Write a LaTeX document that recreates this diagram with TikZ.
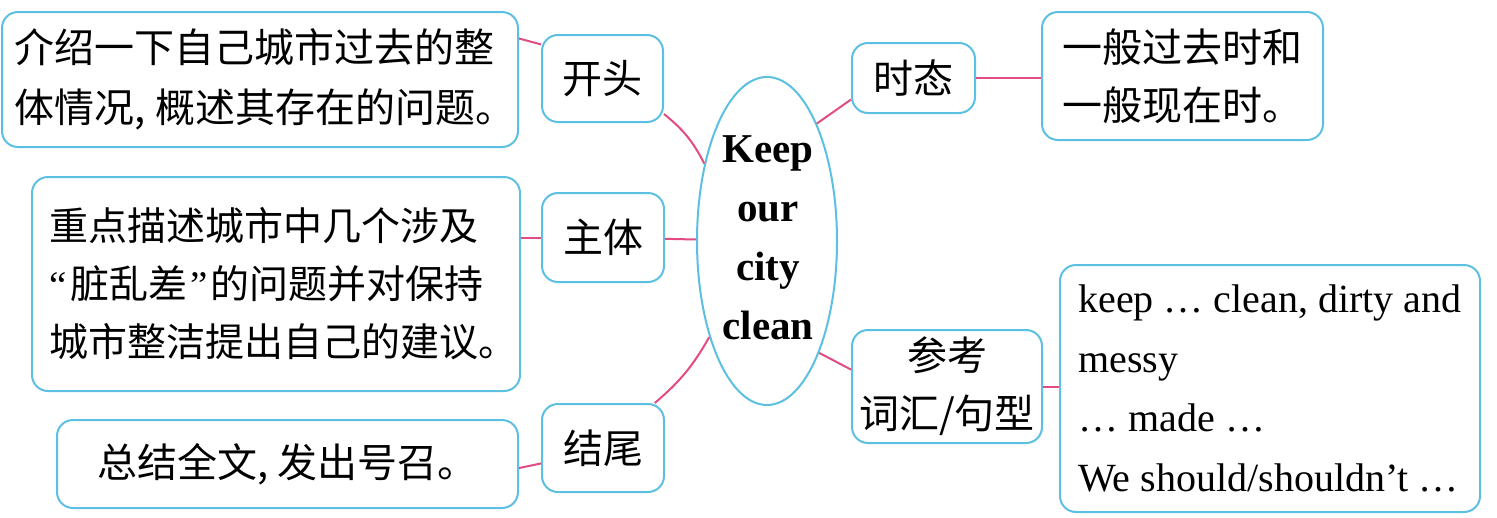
\documentclass[tikz,border=0pt]{standalone}
\usepackage{fontspec}
\setmainfont{Liberation Serif}
\newfontfamily\cjk{Noto Sans CJK SC}
\usetikzlibrary{shapes.geometric}
\definecolor{boxblue}{RGB}{92,192,226}
\definecolor{linkpink}{RGB}{226,76,132}
\newcommand{\lquo}{{\rmfamily “}\kern4pt}
\newcommand{\rquo}{\kern3pt{\rmfamily ”}\kern3pt}
\newcommand{\indentA}{\rule{10pt}{0pt}}
\newcommand{\indentB}{\rule{14pt}{0pt}}
\begin{document}
\begin{tikzpicture}[x=1pt,y=-1pt,
  box/.style={draw=boxblue, line width=2pt, rounded corners=16pt, inner sep=0pt,
    font=\cjk\fontsize{40}{60}\selectfont, align=left},
  lbl/.style={box, align=center, font=\cjk\fontsize{40}{58}\selectfont},
  link/.style={draw=linkpink, line width=2pt}]
\useasboundingbox (0,0) rectangle (1497,517);
\fill[white] (0,0) rectangle (1497,517);

% left side
\node[box, minimum width=516pt, minimum height=135pt] (A) at (260,79.5)
  {\indentA 介绍一下自己城市过去的整\\\indentA 体情况, 概述其存在的问题。};
\node[lbl, minimum width=121pt, minimum height=87pt] (kt) at (602.5,78.5) {开头};
\node[box, font=\cjk\fontsize{39}{58}\selectfont, minimum width=488pt, minimum height=214pt] (B) at (276,284)
  {\indentB 重点描述城市中几个涉及\\\indentB\lquo 脏乱差\rquo 的问题并对保持\\\indentB 城市整洁提出自己的建议。};
\node[lbl, minimum width=122pt, minimum height=89pt] (zt) at (603,237.5) {主体};
\node[box, minimum width=461pt, minimum height=88pt] (C) at (287.5,464) {总结全文, 发出号召。};
\node[lbl, minimum width=122pt, minimum height=88pt] (jw) at (603,448) {结尾};

% centre
\node[draw=boxblue, line width=2pt, ellipse, minimum width=140pt, minimum height=328pt, inner sep=0pt] (E) at (767,241) {};
\node[font=\bfseries\fontsize{41}{59}\selectfont, align=center, inner sep=0pt] (Et) at (768,238) {Keep\\our\\city\\clean};

% right side
\node[lbl, minimum width=123pt, minimum height=70pt] (st) at (913.5,78) {时态};
\node[box, font=\cjk\fontsize{40}{58}\selectfont, minimum width=281pt, minimum height=128pt] (T) at (1182.5,76)
  {一般过去时和\\一般现在时。};
\node[lbl, minimum width=190pt, minimum height=113pt] (ck) at (947,386.5) {参考\\词汇/句型};
\node[box, font=\fontsize{40}{59.5}\selectfont, minimum width=420pt, minimum height=247pt] (R) at (1270,388.5)
  {keep … clean, dirty and\\messy\\… made …\\We should/shouldn’t …};

% connectors
\draw[link] (A.9) -- (kt.151);
\draw[link] (kt.-30) to[bend left=12] (E.129);
\draw[link] (B.east |- zt.west) -- (zt.west);
\draw[link] (zt) -- (E);
\draw[link] (C.-1.5) -- (jw.194.7);
\draw[link] (jw.41) to[bend right=10] (E.239);
\draw[link] (E.67.5) -- (st.-161);
\draw[link] (st.east) -- (st.east -| T.west);
\draw[link] (E.-65.5) -- (ck.170);
\draw[link] (ck.east) -- (ck.east -| R.west);
\end{tikzpicture}
\end{document}
